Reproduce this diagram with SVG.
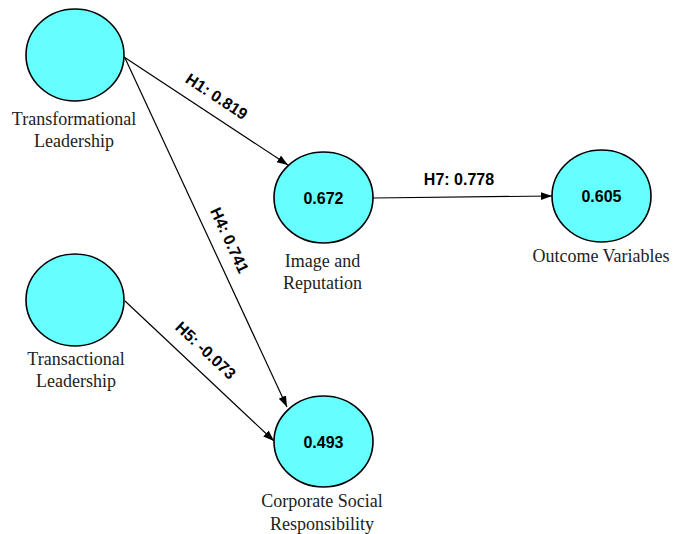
<svg xmlns="http://www.w3.org/2000/svg" width="676" height="534" viewBox="0 0 676 534">
<style>
.node{fill:#66ffff;stroke:#000;stroke-width:1.6}
.lbl{font-family:"Liberation Serif","Times New Roman",serif;font-size:18px;fill:#222;text-anchor:middle}
.val{font-family:"Liberation Sans",Arial,sans-serif;font-size:16px;font-weight:bold;fill:#000;text-anchor:middle}
.edge{stroke:#000;stroke-width:1.2;fill:none;marker-end:url(#arr)}
</style>
<defs>
<marker id="arr" markerWidth="12" markerHeight="10" refX="11" refY="4" orient="auto" markerUnits="userSpaceOnUse">
<path d="M0,0 L11,4 L0,8 Z" fill="#000"/>
</marker>
</defs>
<rect width="676" height="534" fill="#fff"/>
<g id="connectors">
<path class="edge" d="M124,57 L288,165"/>
<text class="val" transform="translate(217,96) rotate(33.4)" y="6">H1: 0.819</text>
<path class="edge" d="M125,58 L287,407"/>
<text class="val" transform="translate(230,240) rotate(65.1)" y="6">H4: 0.741</text>
<path class="edge" d="M125,301 L274,441"/>
<text class="val" transform="translate(206,350) rotate(43.2)" y="6">H5: -0.073</text>
<path class="edge" d="M373,198 L552,196"/>
<text class="val" x="459" y="185">H7: 0.778</text>
</g>
<g id="transformational">
<ellipse class="node" cx="75" cy="55" rx="49" ry="46"/>
<text class="lbl" x="74" y="125">Transformational</text>
<text class="lbl" x="74" y="147">Leadership</text>
</g>
<g id="transactional">
<ellipse class="node" cx="75" cy="300" rx="49" ry="46"/>
<text class="lbl" x="76" y="365">Transactional</text>
<text class="lbl" x="76" y="387">Leadership</text>
</g>
<g id="image">
<ellipse class="node" cx="323.5" cy="197.5" rx="49.5" ry="45.5"/>
<text class="val" x="323.5" y="204">0.672</text>
<text class="lbl" x="322.5" y="267">Image and</text>
<text class="lbl" x="322.5" y="289">Reputation</text>
</g>
<g id="csr">
<ellipse class="node" cx="323.5" cy="441.5" rx="49.5" ry="45.5"/>
<text class="val" x="323.5" y="448">0.493</text>
<text class="lbl" x="322" y="507">Corporate Social</text>
<text class="lbl" x="322" y="530">Responsibility</text>
</g>
<g id="outcome">
<ellipse class="node" cx="601.5" cy="196" rx="49.5" ry="46"/>
<text class="val" x="601.5" y="202">0.605</text>
<text class="lbl" x="601" y="262">Outcome Variables</text>
</g>
</svg>
